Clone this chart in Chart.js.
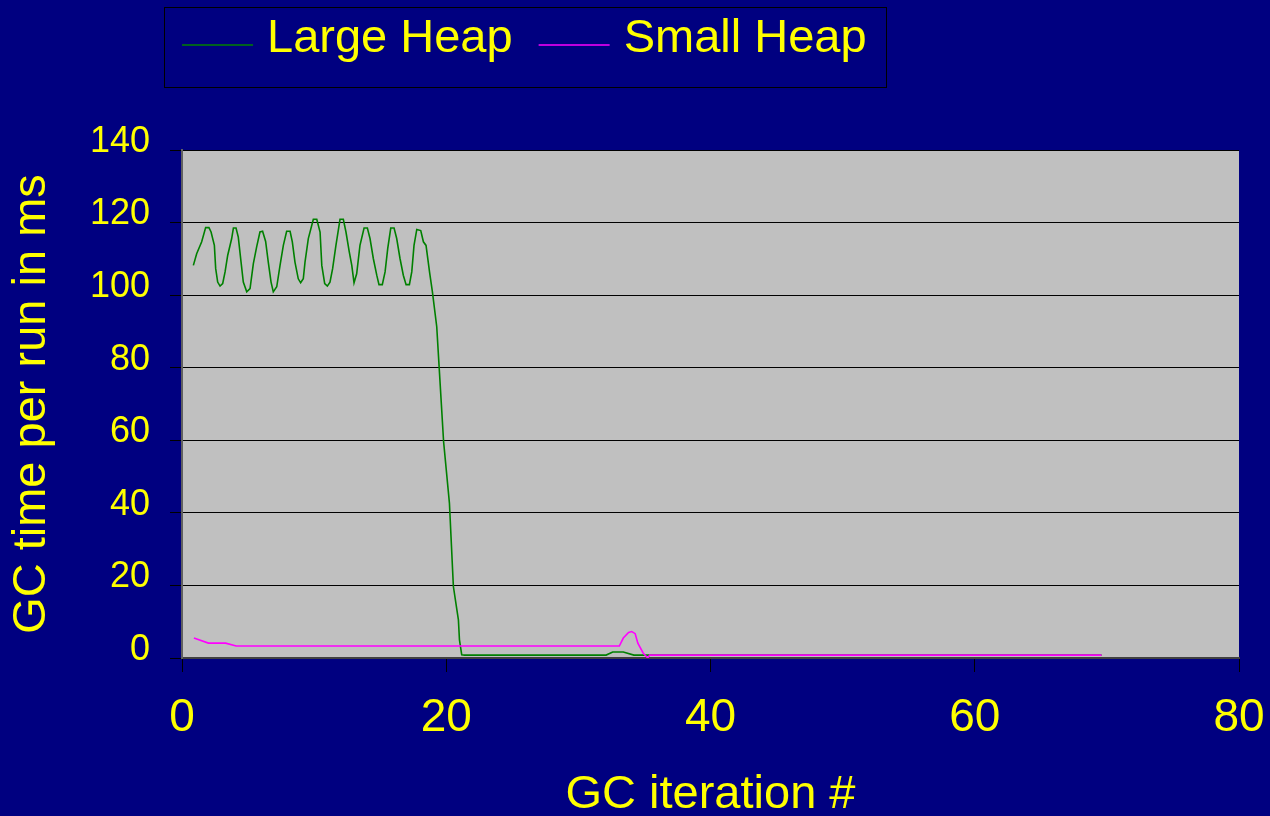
<!DOCTYPE html>
<html>
<head>
<meta charset="utf-8">
<title>GC time per run</title>
<script src="https://cdn.jsdelivr.net/npm/chart.js@4/dist/chart.umd.min.js"></script>
<style>
  html, body { margin: 0; padding: 0; background: #000080; overflow: hidden; }
  #wrap { width: 1270px; height: 816px; }
</style>
</head>
<body>
<div id="wrap"><canvas id="gcChart" width="1270" height="816"></canvas></div>
<script>
  // ---- data ----
  const seriesNames = ["Large Heap", "Small Heap"];

  const largeHeapX = [
    0.86, 1.11, 1.49, 1.79, 2.04, 2.2, 2.45, 2.55, 2.7, 2.88, 3.08, 3.26, 3.46, 3.76, 3.89,
    4.09, 4.26, 4.47, 4.64, 4.9, 5.15, 5.4, 5.65, 5.9, 6.1, 6.33, 6.53, 6.74, 6.91, 7.17,
    7.42, 7.67, 7.92, 8.18, 8.35, 8.55, 8.8, 8.98, 9.18, 9.31, 9.56, 9.94, 10.2, 10.45, 10.58,
    10.8, 11.0, 11.2, 11.4, 11.65, 11.96, 12.21, 12.41, 12.66, 12.85, 13.02, 13.22, 13.47, 13.78, 14.03,
    14.23, 14.48, 14.74, 14.91, 15.16, 15.37, 15.57, 15.8, 16.05, 16.25, 16.5, 16.75, 16.96, 17.21, 17.39,
    17.56, 17.77, 18.07, 18.27, 18.47, 18.75, 18.95, 19.28, 19.46, 19.8, 20.24, 20.54, 20.92, 21.0, 21.17,
    21.4, 32.1, 32.6, 33.4, 34.2, 69.6
  ];
  const largeHeapY = [
    108.2, 111.4, 114.7, 118.6, 118.6, 117.4, 113.7, 107.3, 103.6, 102.5, 103.2, 106.4, 111.0, 115.6, 118.5,
    118.5, 116.0, 109.1, 103.6, 100.9, 101.8, 108.7, 113.3, 117.4, 117.6, 114.8, 109.1, 103.6, 100.9, 102.3,
    108.2, 113.7, 117.6, 117.6, 114.7, 109.1, 104.5, 103.4, 104.5, 109.1, 115.6, 120.9, 120.9, 117.4, 108.2,
    103.2, 102.5, 103.6, 107.3, 113.7, 120.9, 120.9, 117.4, 111.9, 108.2, 103.4, 105.9, 113.7, 118.5, 118.5,
    115.6, 110.1, 105.5, 102.9, 102.9, 106.4, 112.8, 118.5, 118.5, 115.6, 110.1, 105.5, 102.9, 102.9, 106.4,
    113.7, 118.1, 117.8, 114.7, 113.7, 106.0, 101.0, 91.3, 80.3, 59.6, 42.7, 19.7, 10.5, 5.0, 0.9,
    0.8, 0.8, 1.65, 1.65, 0.8, 0.8
  ];

  const smallHeapX = [0.9, 2.0, 3.3, 4.1, 33.1, 33.4, 33.8, 34.04, 34.3, 34.5, 34.9, 35.25, 35.4, 69.6];
  const smallHeapY = [5.5, 4.1, 4.1, 3.3, 3.3, 5.5, 7.05, 7.3, 6.7, 4.1, 1.4, 0.0, 0.8, 0.8];

  const xTickValues = [0, 20, 40, 60, 80];
  const yTickValues = [0, 20, 40, 60, 80, 100, 120, 140];

  const NAVY = "#000080";
  const PLOT_GREY = "#C0C0C0";
  const YELLOW = "#FFFF00";
  const FONT = "'Liberation Sans', Arial, sans-serif";
  const seriesColors = ["#008000", "#FF00FF"];

  const toPoints = (xs, ys) => xs.map((x, i) => ({ x: x, y: ys[i] }));

  // navy page + grey plot area
  const backdrop = {
    id: "backdrop",
    beforeDraw(chart) {
      const { ctx, chartArea: a } = chart;
      ctx.save();
      ctx.fillStyle = NAVY;
      ctx.fillRect(0, 0, chart.width, chart.height);
      ctx.fillStyle = PLOT_GREY;
      ctx.fillRect(a.left, a.top, a.right - a.left, a.bottom - a.top);
      ctx.restore();
    }
  };

  // boxed legend at the top, like the original slide
  const boxedLegend = {
    id: "boxedLegend",
    afterDraw(chart) {
      const ctx = chart.ctx;
      ctx.save();
      ctx.strokeStyle = "#000000";
      ctx.lineWidth = 1;
      ctx.strokeRect(164.5, 7.5, 722, 80);

      ctx.font = "47px " + FONT;
      ctx.textBaseline = "alphabetic";
      ctx.textAlign = "left";
      let x = 182;
      chart.data.datasets.forEach((ds) => {
        ctx.strokeStyle = ds.borderColor;
        ctx.lineWidth = 1.5;
        ctx.beginPath();
        ctx.moveTo(x, 45);
        ctx.lineTo(x + 71, 45);
        ctx.stroke();
        ctx.fillStyle = YELLOW;
        ctx.fillText(ds.label, x + 85, 52);
        x += 85 + ctx.measureText(ds.label).width + 26;
      });
      ctx.restore();
    }
  };

  new Chart(document.getElementById("gcChart"), {
    type: "line",
    data: {
      datasets: [
        {
          label: seriesNames[0],
          data: toPoints(largeHeapX, largeHeapY),
          borderColor: seriesColors[0],
          borderWidth: 1.6,
          pointRadius: 0,
          tension: 0,
          fill: false,
          order: 1
        },
        {
          label: seriesNames[1],
          data: toPoints(smallHeapX, smallHeapY),
          borderColor: seriesColors[1],
          borderWidth: 1.6,
          pointRadius: 0,
          tension: 0,
          fill: false,
          order: 0
        }
      ]
    },
    options: {
      responsive: false,
      animation: false,
      layout: { padding: { top: 150, right: 31, left: 0, bottom: 0 } },
      plugins: {
        legend: { display: false },
        tooltip: { enabled: false }
      },
      scales: {
        x: {
          type: "linear",
          min: 0,
          max: 80,
          afterFit: (s) => { s.height = 158; s.paddingLeft = 0; s.paddingRight = 0; },
          afterBuildTicks: (s) => { s.ticks = xTickValues.map((v) => ({ value: v })); },
          grid: { drawOnChartArea: false, drawTicks: true, tickLength: 14, color: "#000000" },
          border: { color: "#404040", width: 2 },
          ticks: { color: YELLOW, font: { family: FONT, size: 46 }, padding: 19, maxRotation: 0 },
          title: {
            display: true,
            text: "GC iteration #",
            color: YELLOW,
            font: { family: FONT, size: 47, lineHeight: 0.9 },
            padding: 0
          }
        },
        y: {
          min: 0,
          max: 140,
          afterFit: (s) => { s.width = 182; s.paddingTop = 0; s.paddingBottom = 0; },
          afterBuildTicks: (s) => { s.ticks = yTickValues.map((v) => ({ value: v })); },
          grid: { color: "#000000", lineWidth: 1, tickLength: 12 },
          border: { color: "#606060", width: 2 },
          ticks: { color: YELLOW, font: { family: FONT, size: 36 }, padding: 20, labelOffset: -8 },
          title: {
            display: true,
            text: "GC time per run in ms",
            color: YELLOW,
            font: { family: FONT, size: 47 },
            padding: { top: 4, bottom: 0 }
          }
        }
      }
    },
    plugins: [backdrop, boxedLegend]
  });
</script>
</body>
</html>
